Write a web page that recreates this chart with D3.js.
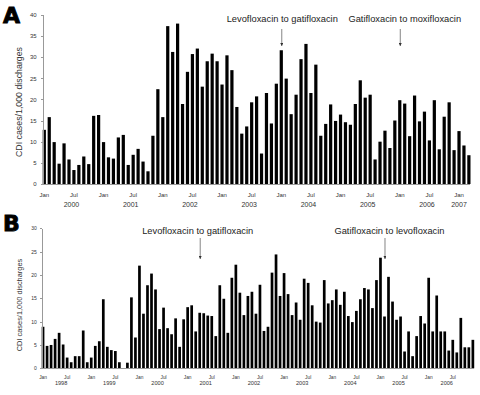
<!DOCTYPE html>
<html>
<head>
<meta charset="utf-8">
<script src="https://cdn.jsdelivr.net/npm/d3@7"></script>
<style>
  body { margin: 0; background: #fff; }
  svg { display: block; font-family: "Liberation Sans", Arial, sans-serif; }
  .axis path, .axis line { stroke: #999; stroke-width: 1; shape-rendering: crispEdges; }
  .axis text { fill: #333; }
  .note { fill: #222; }
  .letter { font-family: "DejaVu Sans", sans-serif; font-weight: bold; fill: #000; stroke: #000; stroke-width: 0.9; }
</style>
</head>
<body>
<svg id="chart" width="480" height="395"></svg>
<script>
var monthNames = ["Jan", "Feb", "Mar", "Apr", "May", "Jun", "Jul", "Aug", "Sep", "Oct", "Nov", "Dec"];
var monthTicks = ["Jan", "Jul"];

// panel A: Jan 2000 - Mar 2007
var yearsA = [2000, 2001, 2002, 2003, 2004, 2005, 2006, 2007];
var ratesA = [12.8, 15.8, 9.9, 4.8, 9.6, 5.8, 3.3, 4.5, 6.5, 4.7, 16.1, 16.3,
              9.9, 6.3, 6.0, 11.0, 11.6, 4.5, 6.9, 8.3, 5.3, 3.0, 11.4, 22.4,
              15.8, 37.3, 31.2, 37.9, 18.9, 26.5, 30.7, 32.0, 23.0, 29.0, 30.8, 29.0,
              23.5, 30.4, 26.9, 18.2, 11.9, 13.6, 19.3, 20.7, 7.2, 21.5, 14.3, 23.7,
              31.6, 24.9, 16.5, 21.1, 29.5, 33.1, 21.5, 28.2, 11.4, 14.2, 18.8, 14.9,
              16.4, 14.6, 14.0, 18.9, 24.5, 20.4, 21.1, 5.8, 10.0, 12.6, 8.5, 15.0,
              19.8, 19.0, 11.3, 20.9, 14.8, 17.1, 10.3, 19.8, 8.2, 15.9, 19.3, 8.0,
              12.5, 9.1, 6.8];
var yTicksA = [0, 5, 10, 15, 20, 25, 30, 35, 40];
var notesA = ["Levofloxacin to gatifloxacin", "Gatifloxacin to moxifloxacin"];
var notesAtA = ["Jan 2004", "Jan 2006"];

// panel B: Jan 1998 - Dec 2006
var yearsB = [1998, 1999, 2000, 2001, 2002, 2003, 2004, 2005, 2006];
var ratesB = [8.9, 4.8, 5.0, 6.3, 7.6, 5.1, 2.3, 1.3, 2.6, 2.6, 8.1, 1.3,
              2.3, 4.8, 5.8, 14.8, 4.6, 3.9, 3.7, 1.3, 0, 1.2, 15.2, 6.6,
              22.0, 11.7, 17.8, 20.3, 16.9, 8.4, 13.0, 8.6, 7.3, 10.7, 4.6, 10.5,
              13.1, 13.5, 7.9, 11.9, 11.8, 11.3, 11.2, 6.9, 17.8, 14.9, 7.6, 19.4,
              22.2, 16.2, 11.4, 15.5, 16.4, 11.7, 17.9, 8.0, 8.9, 20.5, 24.4, 15.5,
              20.4, 15.9, 11.4, 14.1, 10.4, 19.2, 18.3, 13.5, 10.0, 9.8, 18.9, 13.9,
              14.6, 16.9, 13.6, 16.4, 11.2, 9.9, 12.3, 14.8, 17.2, 16.9, 12.9, 18.9,
              23.7, 11.1, 19.6, 14.3, 10.4, 11.1, 3.6, 7.9, 2.6, 6.9, 11.2, 9.6,
              19.4, 7.9, 15.6, 7.9, 7.9, 3.8, 6.1, 3.4, 10.8, 4.5, 4.5, 6.1];
var yTicksB = [0, 5, 10, 15, 20, 25, 30];
var notesB = ["Levofloxacin to gatifloxacin", "Gatifloxacin to levofloxacin"];
var notesAtB = ["Apr 2001", "Feb 2005"];

var svg = d3.select("#chart");

// small downward arrow head
svg.append("defs").append("marker")
    .attr("id", "head")
    .attr("viewBox", "0 0 6 6")
    .attr("refX", 3).attr("refY", 6)
    .attr("markerWidth", 3).attr("markerHeight", 3)
    .attr("markerUnits", "userSpaceOnUse")
    .attr("orient", "0")
  .append("path")
    .attr("d", "M0,0L6,0L3,6Z")
    .attr("fill", "#333");

function monthList(years, n) {
  var out = [];
  years.forEach(function(y) {
    monthNames.forEach(function(m) { out.push(m + " " + y); });
  });
  return out.slice(0, n);
}

function drawPanel(p) {
  var cats = monthList(p.years, p.values.length);

  var x = d3.scaleBand().domain(cats)
      .range([p.left, p.right]).paddingInner(p.pad).paddingOuter(0);
  var y = d3.scaleLinear().domain([0, p.yMax]).range([p.bottom, p.top]);
  var step = x.step(), bw = x.bandwidth();

  var g = svg.append("g");

  g.selectAll(".bar")
    .data(p.values)
    .enter().append("rect")
      .attr("class", "bar")
      .attr("x", function(d, i) { return x(cats[i]); })
      .attr("y", function(d) { return y(d); })
      .attr("width", bw)
      .attr("height", function(d) { return p.bottom - y(d); })
      .attr("fill", "#000");

  g.append("g")
      .attr("class", "axis")
      .attr("transform", "translate(" + p.left + ",0)")
      .call(d3.axisLeft(y).tickValues(p.yTicks).tickSize(p.tickLen)
        .tickSizeOuter(0).tickPadding(p.tickPad))
      .selectAll("text").style("font-size", p.tickFont + "px");

  var xt = g.append("g")
      .attr("class", "axis")
      .attr("transform", "translate(0," + p.bottom + ")")
      .call(d3.axisBottom(x)
        .tickValues(cats.filter(function(c) { return monthTicks.indexOf(c.split(" ")[0]) >= 0; }))
        .tickFormat(function(c) { return c.split(" ")[0]; })
        .tickSize(0).tickSizeOuter(0).tickPadding(p.monthPad));
  xt.selectAll("text").style("font-size", p.monthFont + "px");
  xt.select(".domain").attr("d", "M" + p.left + ",0.5H" + p.right);

  // year labels under the month labels
  g.selectAll(".year")
    .data(p.years)
    .enter().append("text")
      .attr("class", "year")
      .attr("x", function(yr) {
        var n = cats.filter(function(c) { return c.split(" ")[1] == yr; }).length;
        var off = n < 12 ? 0 : p.yearOffset;
        return x("Jan " + yr) + bw / 2 + off * step;
      })
      .attr("y", p.yearY)
      .attr("text-anchor", "middle")
      .style("font-size", p.yearFont + "px")
      .attr("fill", "#333")
      .text(function(yr) { return yr; });

  g.append("text")
      .attr("transform", "translate(" + p.labelX + "," + p.labelY + ") rotate(-90)")
      .attr("text-anchor", "middle")
      .style("font-size", p.labelFont + "px")
      .attr("fill", "#333")
      .text("CDI cases/1,000 discharges");

  g.append("text")
      .attr("class", "letter")
      .attr("x", 3)
      .attr("y", p.letterY)
      .style("font-size", "22px")
      .text(p.letter);

  p.notes.forEach(function(t, i) {
    var cx = x(p.notesAt[i]) + bw / 2;
    g.append("line")
        .attr("x1", cx + 0.5).attr("x2", cx + 0.5)
        .attr("y1", p.arrowTop).attr("y2", p.arrowBottom)
        .attr("stroke", "#666").attr("stroke-width", 0.8)
        .attr("marker-end", "url(#head)");
    g.append("text")
        .attr("class", "note")
        .attr("x", cx + p.noteDx[i])
        .attr("y", p.noteY)
        .attr("text-anchor", "middle")
        .style("font-size", "9.3px")
        .text(t);
  });
}

drawPanel({
  letter: "A", letterY: 23,
  years: yearsA, values: ratesA, yTicks: yTicksA, yMax: 40,
  notes: notesA, notesAt: notesAtA, noteDx: [1, 5],
  left: 42.7, right: 42.7 + 4.937 * (87 - 0.35), pad: 0.35,
  top: 14.7, bottom: 184,
  tickLen: 2, tickPad: 4, tickFont: 6,
  monthPad: 9, monthFont: 6,
  yearY: 207, yearFont: 7, yearOffset: 5.5,
  labelX: 22, labelY: 102, labelFont: 8.8,
  noteY: 22, arrowTop: 29, arrowBottom: 46
});

drawPanel({
  letter: "B", letterY: 231,
  years: yearsB, values: ratesB, yTicks: yTicksB, yMax: 30,
  notes: notesB, notesAt: notesAtB, noteDx: [-2, 5],
  left: 41.7, right: 41.7 + 4.017 * (108 - 0.33), pad: 0.33,
  top: 228.3, bottom: 368.3,
  tickLen: 2, tickPad: 3, tickFont: 5,
  monthPad: 7.5, monthFont: 4.8,
  yearY: 385, yearFont: 5.6, yearOffset: 4.5,
  labelX: 21.5, labelY: 305, labelFont: 7.4,
  noteY: 234, arrowTop: 238, arrowBottom: 259
});
</script>
</body>
</html>
